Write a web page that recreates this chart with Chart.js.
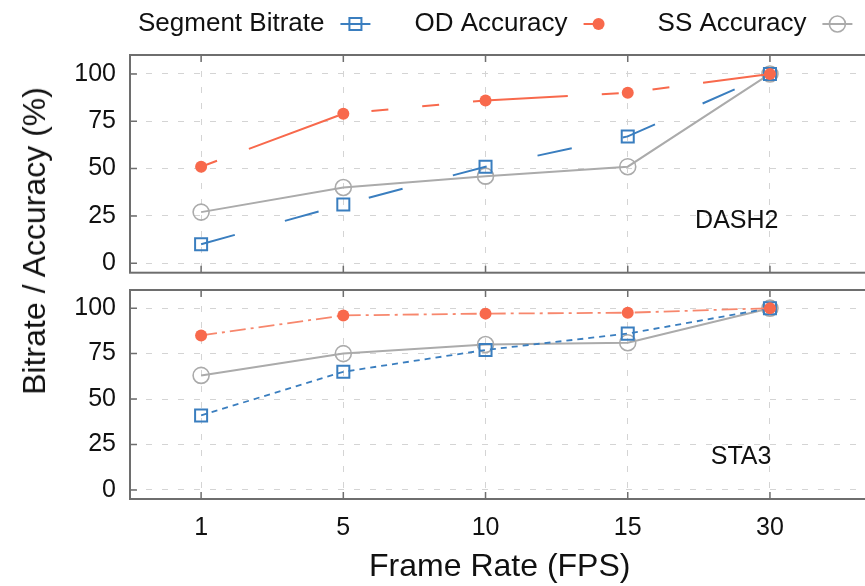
<!DOCTYPE html>
<html>
<head>
<meta charset="utf-8">
<script src="https://cdn.jsdelivr.net/npm/chart.js@4.4.1/dist/chart.umd.min.js"></script>
<style>
  html, body { margin: 0; padding: 0; background: #fff; overflow: hidden; }
  #wrap { position: relative; width: 865px; height: 586px; overflow: hidden; }
  #top-box { position: absolute; left: 0; top: 0; }
  #bottom-box { position: absolute; left: 0; top: 261px; }
  #y-title {
    position: absolute; left: 33.5px; top: 241px;
    transform: translate(-50%, -50%) rotate(-90deg);
    font: 32px/1 "Liberation Sans", Arial, sans-serif; color: #111;
    white-space: nowrap;
  }
</style>
</head>
<body>
<div id="wrap">
  <div id="top-box"><canvas id="dash-chart" width="880" height="302"></canvas></div>
  <div id="bottom-box"><canvas id="sta-chart" width="880" height="325"></canvas></div>
  <div id="y-title">Bitrate / Accuracy (%)</div>
</div>
<script>
// Frame rates on the x axis (equally spaced)
const frameRates = ["1", "5", "10", "15", "30"];
const yTicks = [0, 25, 50, 75, 100];

// DASH2 panel
const dashBitrate = [10, 31, 51, 67, 100];
const dashOD = [51, 79, 86, 90, 100];
const dashSS = [27, 40, 46, 51, 100];

// STA3 panel
const staBitrate = [41, 65, 77, 86, 100];
const staOD = [85, 96, 97, 97.5, 100];
const staSS = [63, 75, 80, 81, 100];

const FONT = '"Liberation Sans", Arial, Helvetica, sans-serif';
const INK = "#111111";
const FRAME = "#6e6e6e";
const BLUE = "#3a7ebf";
const RED = "#f8694c";
const GREY = "#ababab";

// Line styles differ per panel
const dashStyle = { bitrateDash: [35, 52], bitrateWidth: 2, odDash: [17, 34, 95, 34, 17, 34], odWidth: 2, odColor: RED };
const staStyle = { bitrateDash: [6, 5], bitrateWidth: 1.8, odDash: [16, 5, 3, 5], odWidth: 1.8, odColor: "#f7876d" };

function points(values) {
  return values.map(function (v, i) {
    return { x: i, y: v };
  });
}

function makeDatasets(bitrate, od, ss, style) {
  return [
    {
      label: "Segment Bitrate",
      data: points(bitrate),
      borderColor: BLUE,
      borderWidth: style.bitrateWidth,
      borderDash: style.bitrateDash,
      pointStyle: "rect",
      pointRadius: 8.5,
      pointBorderColor: BLUE,
      pointBackgroundColor: "rgba(0,0,0,0)",
      pointBorderWidth: 2,
      order: 1,
    },
    {
      label: "OD Accuracy",
      data: points(od),
      borderColor: style.odColor,
      borderWidth: style.odWidth,
      borderDash: style.odDash,
      pointStyle: "circle",
      pointRadius: 6,
      pointBorderColor: RED,
      pointBackgroundColor: RED,
      pointBorderWidth: 0,
      order: 0,
    },
    {
      label: "SS Accuracy",
      data: points(ss),
      borderColor: GREY,
      borderWidth: 2,
      pointStyle: "circle",
      pointRadius: 8,
      pointBorderColor: GREY,
      pointBackgroundColor: "rgba(0,0,0,0)",
      pointBorderWidth: 1.6,
      order: 2,
    },
  ];
}

function makeScales(showX) {
  return {
    x: {
      type: "linear",
      min: -0.5,
      max: 4.7,
      afterBuildTicks: function (s) {
        s.ticks = frameRates.map(function (_, i) { return { value: i }; });
      },
      afterFit: function (s) { s.height = showX ? 87 : 0; },
      grid: { color: "#d4d4d4", lineWidth: 1, drawTicks: false },
      border: { display: false, dash: [6, 10] },
      ticks: {
        display: showX,
        padding: 14,
        color: INK,
        font: { family: FONT, size: 25 },
        maxRotation: 0,
        autoSkip: false,
        callback: function (v) { return frameRates[v]; },
      },
      title: {
        display: showX,
        text: "Frame Rate (FPS)",
        color: INK,
        font: { family: FONT, size: 32 },
        padding: 0,
      },
    },
    y: {
      min: -5,
      max: 110,
      afterBuildTicks: function (s) {
        s.ticks = yTicks.map(function (v) { return { value: v }; });
      },
      afterFit: function (s) { s.width = 130; },
      grid: { color: "#d4d4d4", lineWidth: 1, drawTicks: false },
      border: { display: false, dash: [6, 10] },
      ticks: { padding: 14, color: INK, font: { family: FONT, size: 25 } },
    },
  };
}

// Box frame, inward ticks and the panel name
const framePlugin = {
  id: "panelFrame",
  beforeDatasetsDraw: function (chart, args, opts) {
    const ctx = chart.ctx;
    const a = chart.chartArea;
    const xs = chart.scales.x;
    const ys = chart.scales.y;
    ctx.save();
    ctx.strokeStyle = FRAME;
    ctx.lineWidth = 2;
    ctx.strokeRect(a.left, a.top, a.right - a.left, a.bottom - a.top);
    ctx.lineWidth = 1.5;
    ctx.beginPath();
    ys.ticks.forEach(function (t) {
      const y = ys.getPixelForValue(t.value);
      ctx.moveTo(a.left, y);
      ctx.lineTo(a.left + 7, y);
    });
    xs.ticks.forEach(function (t) {
      const x = xs.getPixelForValue(t.value);
      ctx.moveTo(x, a.top);
      ctx.lineTo(x, a.top + 7);
      ctx.moveTo(x, a.bottom);
      ctx.lineTo(x, a.bottom - 7);
    });
    ctx.stroke();
    ctx.font = "25px " + FONT;
    ctx.fillStyle = INK;
    ctx.textAlign = "right";
    ctx.textBaseline = "middle";
    ctx.fillText(opts.text, xs.getPixelForValue(opts.x), ys.getPixelForValue(opts.y));
    ctx.restore();
  },
};

// gnuplot-like legend: text first, then the line sample
const legendPlugin = {
  id: "textFirstLegend",
  afterDraw: function (chart) {
    const ctx = chart.ctx;
    const y = 24;
    let x = 138;
    ctx.save();
    ctx.font = "26px " + FONT;
    ctx.textBaseline = "middle";
    chart.data.datasets.forEach(function (ds) {
      ctx.fillStyle = INK;
      ctx.textAlign = "left";
      ctx.fillText(ds.label, x, y);
      x += ctx.measureText(ds.label).width + 16;
      ctx.strokeStyle = ds.borderColor;
      ctx.lineWidth = ds.borderWidth;
      ctx.setLineDash(ds.borderDash || []);
      ctx.beginPath();
      ctx.moveTo(x, y);
      ctx.lineTo(x + 30, y);
      ctx.stroke();
      ctx.setLineDash([]);
      const cx = x + 15;
      const r = ds.pointRadius;
      ctx.beginPath();
      if (ds.pointStyle === "rect") {
        const h = r * Math.SQRT1_2;
        ctx.rect(cx - h, y - h, 2 * h, 2 * h);
      } else {
        ctx.arc(cx, y, r, 0, Math.PI * 2);
      }
      ctx.fillStyle = ds.pointBackgroundColor;
      ctx.fill();
      if (ds.pointBorderWidth > 0) {
        ctx.strokeStyle = ds.pointBorderColor;
        ctx.lineWidth = ds.pointBorderWidth;
        ctx.stroke();
      }
      x += 30 + 44;
    });
    ctx.restore();
  },
};

// Top panel: chart area 55..272.7 on the page
const dashChart = new Chart(document.getElementById("dash-chart"), {
  type: "line",
  data: { datasets: makeDatasets(dashBitrate, dashOD, dashSS, dashStyle) },
  options: {
    responsive: false,
    animation: false,
    layout: { padding: { top: 55, left: 0, right: 9, bottom: 29.3 } },
    plugins: {
      legend: { display: false },
      tooltip: { enabled: false },
      panelFrame: { text: "DASH2", x: 4.06, y: 22.5 },
    },
    scales: makeScales(false),
  },
  plugins: [framePlugin, legendPlugin],
});

// Bottom panel: chart area 290..499.3 on the page
const staChart = new Chart(document.getElementById("sta-chart"), {
  type: "line",
  data: { datasets: makeDatasets(staBitrate, staOD, staSS, staStyle) },
  options: {
    responsive: false,
    animation: false,
    layout: { padding: { top: 29, left: 0, right: 9, bottom: 0 } },
    plugins: {
      legend: { display: false },
      tooltip: { enabled: false },
      panelFrame: { text: "STA3", x: 4.01, y: 18 },
    },
    scales: makeScales(true),
  },
  plugins: [framePlugin],
});
</script>
</body>
</html>
